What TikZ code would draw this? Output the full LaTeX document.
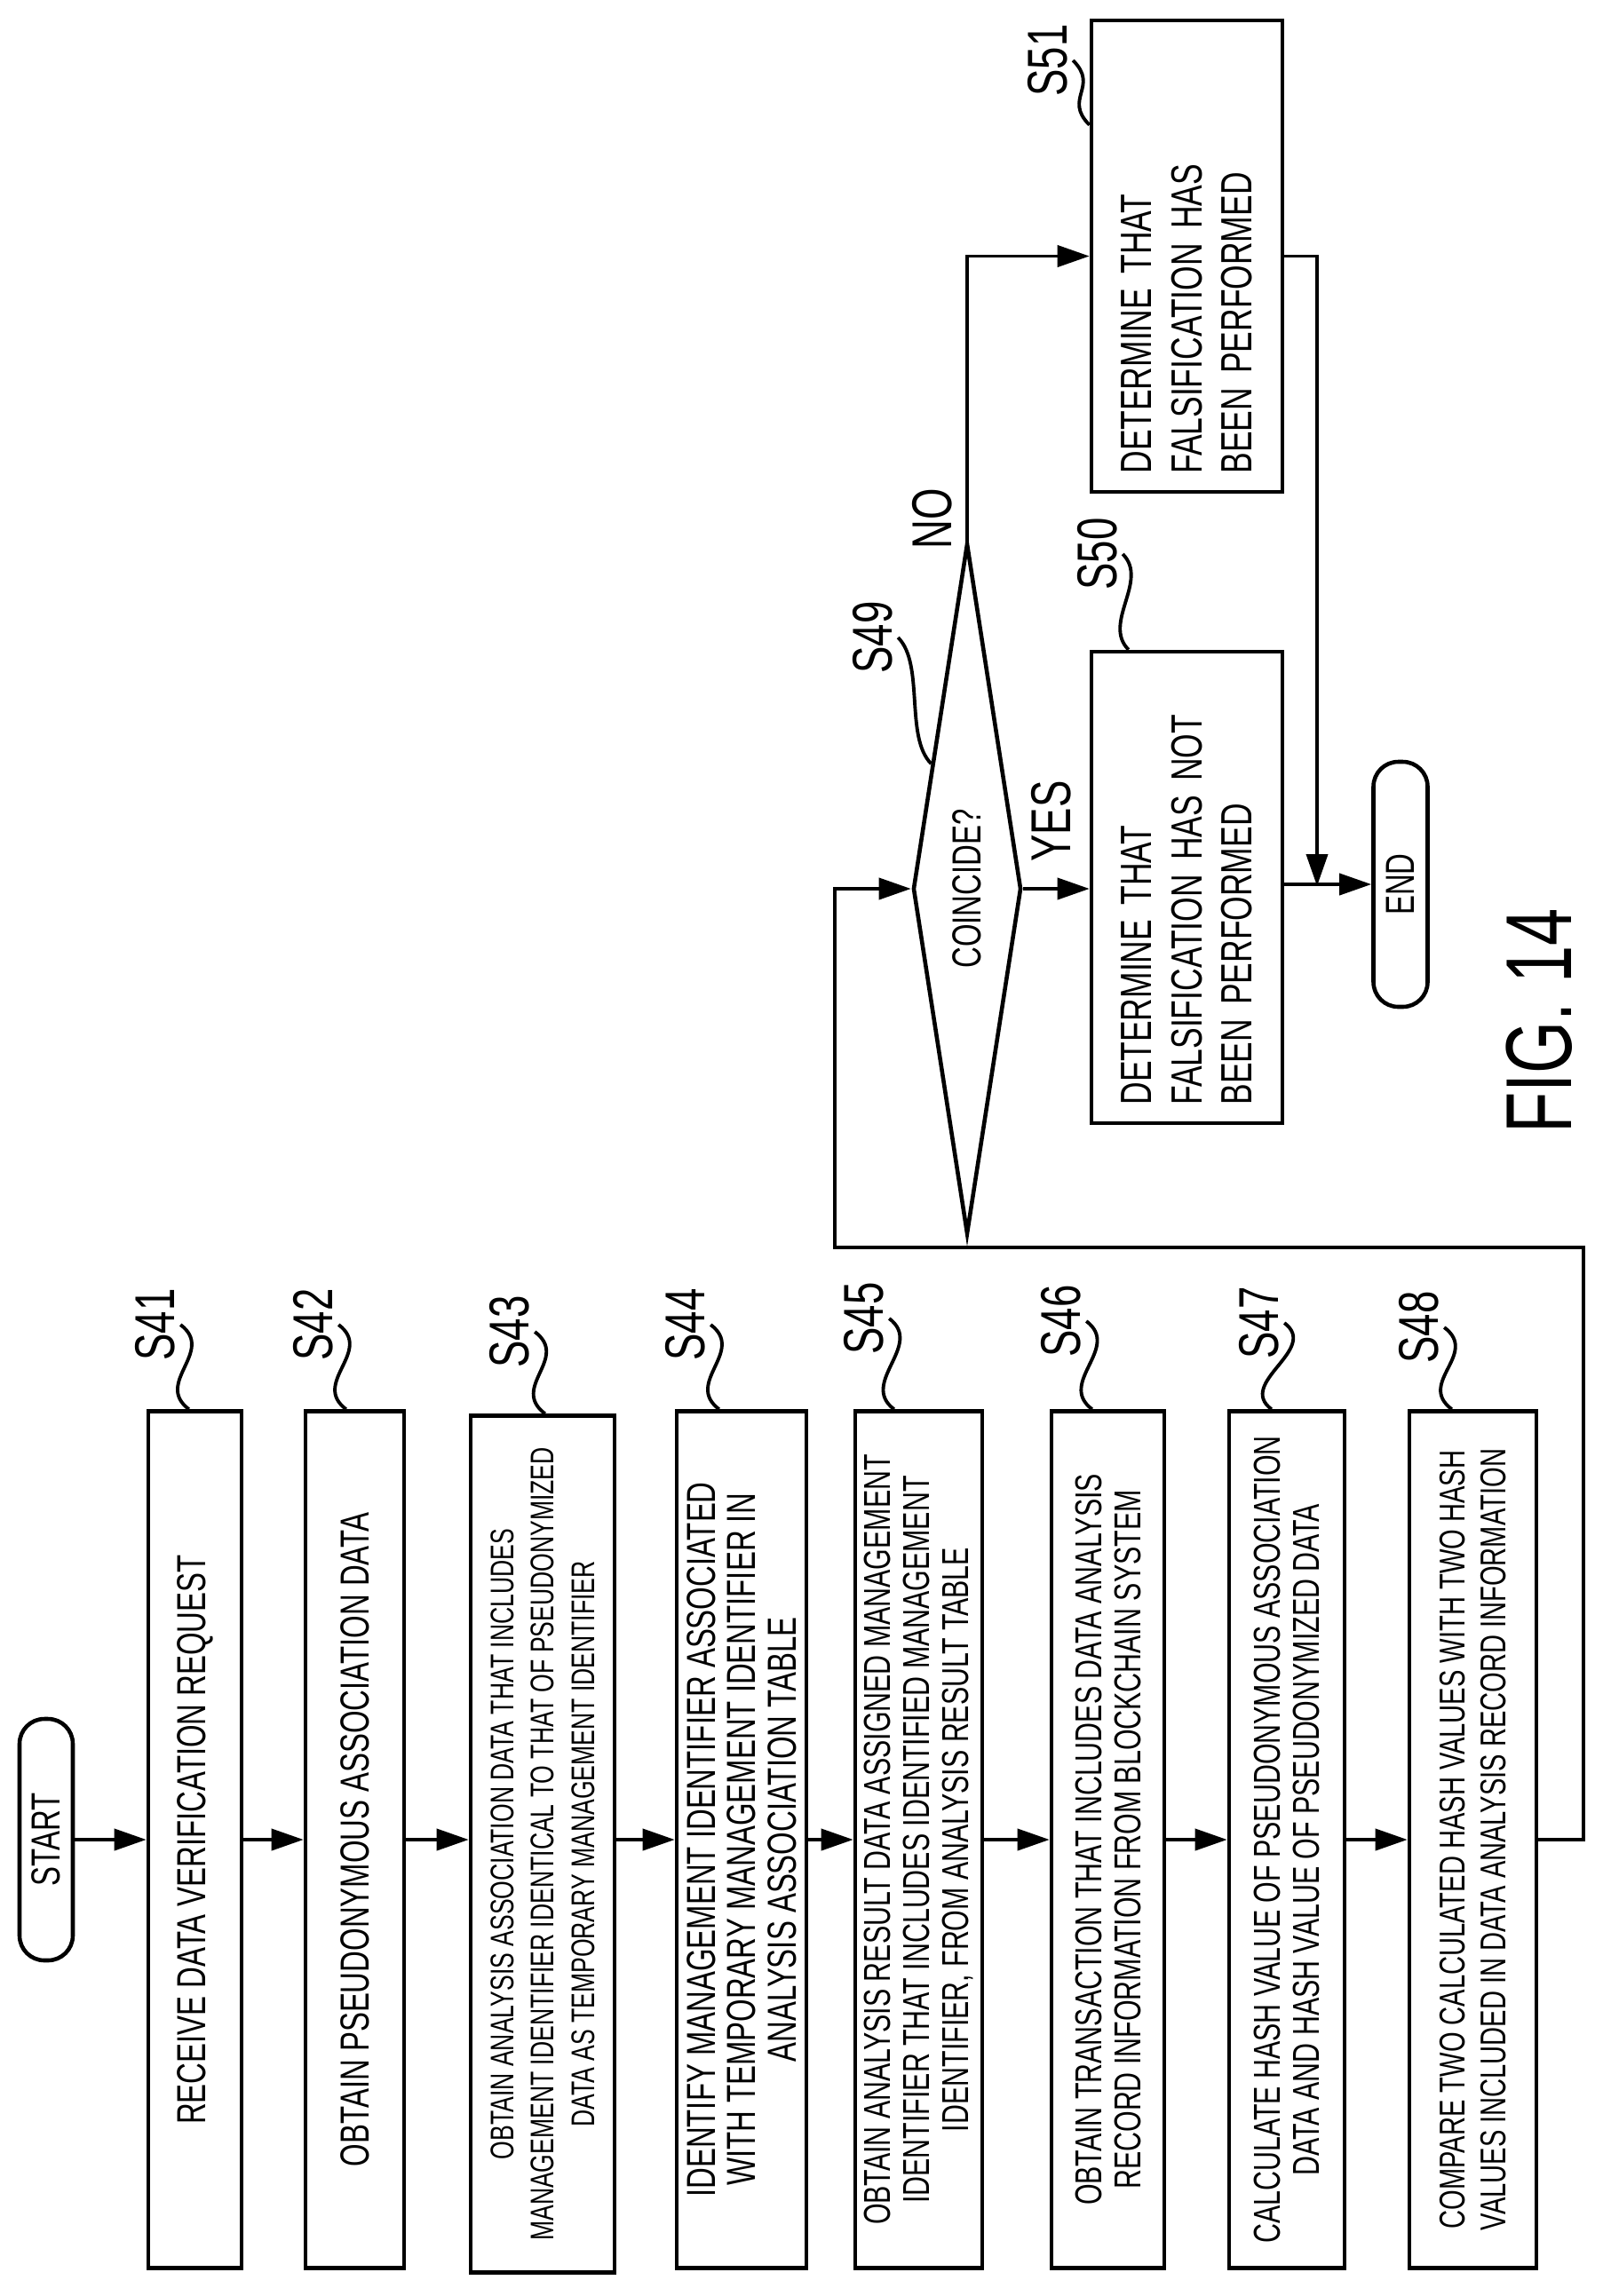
\documentclass[tikz,border=0pt]{standalone}
\usepackage{fontspec}
\setmainfont{Liberation Sans}[FakeStretch=0.72]
\usetikzlibrary{shapes.geometric,arrows.meta,calc}

\begin{document}
\begin{tikzpicture}[line width=1.3pt,
  box/.style={draw=black,rectangle,rotate=90,minimum width=9.65cm,inner sep=2pt,align=center,font=\fontsize{12}{12.5}\selectfont},
  term/.style={draw=black,rounded corners=0.28cm,rotate=90,minimum width=2.72cm,minimum height=0.6cm,inner sep=0pt,font=\fontsize{13}{13}\selectfont},
  lab/.style={rotate=90,inner sep=1pt,font=\fontsize{18}{18}\selectfont},
  arr/.style={-{Triangle[length=0.36cm,width=0.24cm]},line width=1.1pt},
  sq/.style={line width=1.1pt}]
\useasboundingbox (0,0) rectangle (18.05,-25.86);

\node (START) [term] at (0.52,-20.72) {START};
\node (S41) [box,minimum height=1.05cm,font=\fontsize{13}{13}\selectfont] at (2.195,-20.72) {RECEIVE DATA VERIFICATION REQUEST};
\node (S42) [box,minimum height=1.11cm,font=\fontsize{13}{13}\selectfont] at (3.995,-20.72) {OBTAIN PSEUDONYMOUS ASSOCIATION DATA};
\node (S43) [box,minimum height=1.62cm,font=\fontsize{10.5}{13}\selectfont] at (6.11,-20.77) {OBTAIN ANALYSIS ASSOCIATION DATA THAT INCLUDES\\MANAGEMENT IDENTIFIER IDENTICAL TO THAT OF PSEUDONYMIZED\\DATA AS TEMPORARY MANAGEMENT IDENTIFIER};
\node (S44) [box,minimum height=1.46cm,font=\fontsize{13}{13}\selectfont] at (8.35,-20.72) {IDENTIFY MANAGEMENT IDENTIFIER ASSOCIATED\\WITH TEMPORARY MANAGEMENT IDENTIFIER IN\\ANALYSIS ASSOCIATION TABLE};
\node (S45) [box,minimum height=1.43cm] at (10.345,-20.72) {OBTAIN ANALYSIS RESULT DATA ASSIGNED MANAGEMENT\\IDENTIFIER THAT INCLUDES IDENTIFIED MANAGEMENT\\IDENTIFIER, FROM ANALYSIS RESULT TABLE};
\node (S46) [box,minimum height=1.27cm] at (12.475,-20.72) {OBTAIN TRANSACTION THAT INCLUDES DATA ANALYSIS\\RECORD INFORMATION FROM BLOCKCHAIN SYSTEM};
\node (S47) [box,minimum height=1.30cm] at (14.49,-20.72) {CALCULATE HASH VALUE OF PSEUDONYMOUS ASSOCIATION\\DATA AND HASH VALUE OF PSEUDONYMIZED DATA};
\node (S48) [box,minimum height=1.43cm,font=\fontsize{11.5}{13}\selectfont] at (16.585,-20.72) {COMPARE TWO CALCULATED HASH VALUES WITH TWO HASH\\VALUES INCLUDED IN DATA ANALYSIS RECORD INFORMATION};

\node (DIA) [draw=black,diamond,rotate=90,shape aspect=6.4,minimum width=7.78cm,minimum height=1.22cm,inner sep=0pt,font=\fontsize{13}{13}\selectfont] at (10.89,-10.01) {COINCIDE?};
\node (S50) [box,minimum width=5.31cm,minimum height=2.15cm,align=left,text width=4.9cm,font=\fontsize{14}{16}\selectfont] at (13.365,-9.995) {DETERMINE THAT\\FALSIFICATION HAS NOT\\BEEN PERFORMED};
\node (S51) [box,minimum width=5.31cm,minimum height=2.15cm,align=left,text width=4.9cm,font=\fontsize{14}{16}\selectfont] at (13.365,-2.885) {DETERMINE THAT\\FALSIFICATION HAS\\BEEN PERFORMED};
\node (END) [term,minimum width=2.76cm,minimum height=0.61cm] at (15.77,-9.96) {END};
\node (FIG) [rotate=90,font=\fontsize{30}{30}\selectfont] at (17.33,-11.5) {FIG. 14};
\node (YES) [lab] at (11.84,-9.25) {YES};
\node (NO) [lab] at (10.50,-5.84) {NO};

% step labels
\node (L41) [lab] at (1.75,-14.92) {S41};
\node (L42) [lab] at (3.53,-14.92) {S42};
\node (L43) [lab] at (5.74,-15.0) {S43};
\node (L44) [lab] at (7.72,-14.92) {S44};
\node (L45) [lab] at (9.73,-14.85) {S45};
\node (L46) [lab] at (11.95,-14.88) {S46};
\node (L47) [lab] at (14.18,-14.9) {S47};
\node (L48) [lab] at (15.98,-14.95) {S48};
\node (L49) [lab] at (9.83,-7.18) {S49};
\node (L50) [lab] at (12.36,-6.24) {S50};
\node (L51) [lab] at (11.80,-0.68) {S51};
\draw[sq] (L41.south) .. controls +(0.4,-0.3) and +(-0.4,0.3) .. ($(S41.north east)+(0.48,0)$);
\draw[sq] (L42.south) .. controls +(0.4,-0.3) and +(-0.4,0.3) .. ($(S42.north east)+(0.48,0)$);
\draw[sq] (L43.south) .. controls +(0.4,-0.3) and +(-0.4,0.3) .. ($(S43.north east)+(0.86,0)$);
\draw[sq] (L44.south) .. controls +(0.4,-0.3) and +(-0.4,0.3) .. ($(S44.north east)+(0.5,0)$);
\draw[sq] (L45.south) .. controls +(0.4,-0.3) and +(-0.4,0.3) .. ($(S45.north east)+(0.46,0)$);
\draw[sq] (L46.south) .. controls +(0.4,-0.3) and +(-0.4,0.3) .. ($(S46.north east)+(0.48,0)$);
\draw[sq] (L47.south) .. controls +(0.4,-0.3) and +(-0.4,0.3) .. ($(S47.north east)+(0.5,0)$);
\draw[sq] (L48.south) .. controls +(0.4,-0.3) and +(-0.4,0.3) .. ($(S48.north east)+(0.5,0)$);
\draw[sq] (L49.south) .. controls +(0.3,-0.3) and +(-0.3,0.3) .. ($(DIA.north)!0.36!(DIA.east)$);
\draw[sq] (L50.south) .. controls +(0.3,-0.3) and +(-0.3,0.3) .. ($(S50.north east)+(0.44,0)$);
\draw[sq] (L51.south) .. controls +(0.3,-0.3) and +(-0.3,0.3) .. ($(S51.north east)+(0,-1.2)$);

% flow
\draw[arr] (START) -- (S41);
\draw[arr] (S41) -- (S42);
\draw[arr] (S42) -- (S43.north |- S42);
\draw[arr] (S43.south |- S44) -- (S44);
\draw[arr] (S44) -- (S45);
\draw[arr] (S45) -- (S46);
\draw[arr] (S46) -- (S47);
\draw[arr] (S47) -- (S48);
\coordinate (LA) at (17.83,-14.05);
\coordinate (LB) at (9.40,-14.05);
\draw[arr] (S48.south) -| (LA) -- (LB) |- (DIA.north);
\draw[arr] (DIA.south) -- (S50.north |- DIA.south);
\draw[arr] (DIA.east) |- (S51.north);
\coordinate (MG) at (14.83,-9.98);
\draw[arr] (S50.south |- END) -- (END.north);
\draw[arr] (S51.south) -| (MG);
\end{tikzpicture}
\end{document}
